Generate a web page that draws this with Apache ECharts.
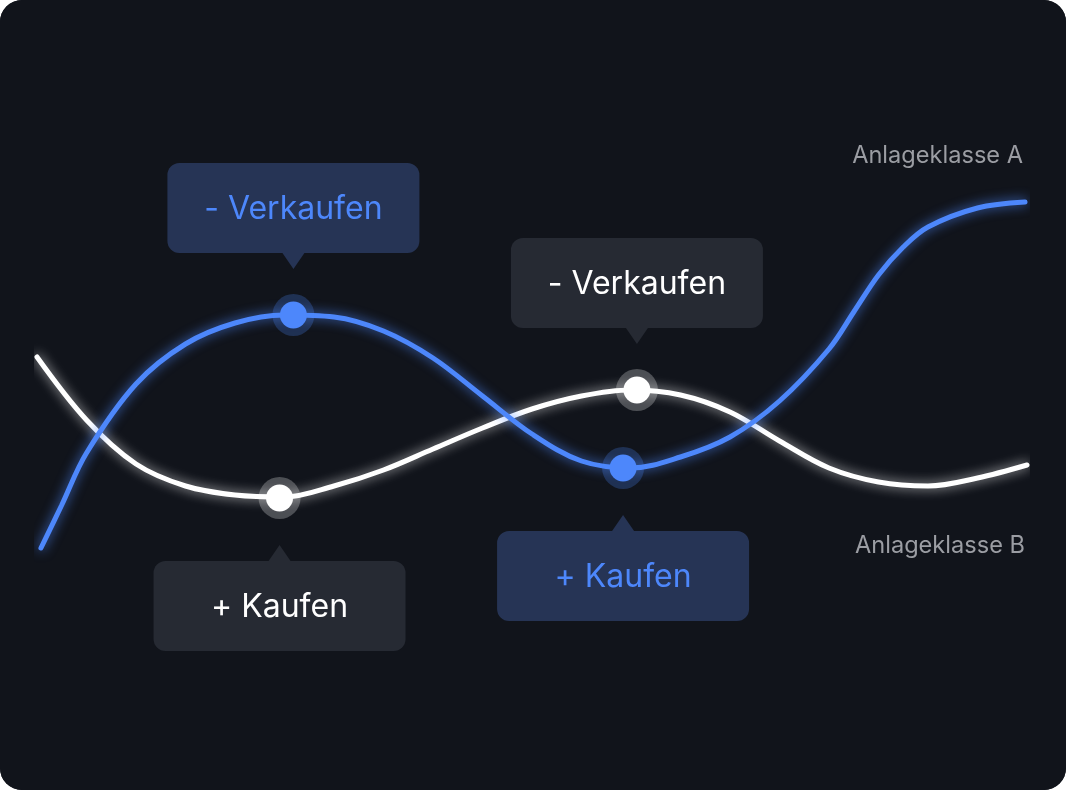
<!DOCTYPE html>
<html>
<head>
<meta charset="utf-8">
<script src="https://cdn.jsdelivr.net/npm/echarts@6/dist/echarts.min.js"></script>
<style>
  html, body { margin: 0; padding: 0; background: #ffffff; }
  #wrap { width: 1066px; height: 790px; border-radius: 22px; overflow: hidden; background: #11141b; }
  #chart { width: 1066px; height: 790px; }
</style>
</head>
<body>
<div id="wrap"><div id="chart"></div></div>
<script>
// Series names
const seriesNames = ['Anlageklasse A', 'Anlageklasse B'];
// Time steps
const timeA = [0.4, 2.5, 5, 10, 15, 20, 25, 30, 35, 40, 45, 50, 55, 60, 65, 70, 75, 80, 82.5, 85, 87.5, 90, 95, 99.8];
const timeB = [0, 5, 10, 15, 20, 25, 30, 35, 40, 45, 50, 55, 60, 65, 70, 75, 80, 85, 90, 95, 100];
// Anlageklasse A (blue) values
const valuesA = [10.4, 19, 29.4, 43.2, 51.2, 55.4, 57, 56.6, 53.8, 48.4, 40.8, 33.2, 27.8, 26.4, 28.6, 32.6, 39.8, 50.2, 57.6, 65, 70.6, 74.6, 78.4, 79.6];
// Anlageklasse B (white) values
const valuesB = [48.6, 36, 27.2, 22.8, 21, 20.6, 22.8, 26, 30.2, 34.4, 38.2, 40.8, 42, 41, 37.6, 31.8, 26.4, 23.6, 22.8, 24.4, 27];
// Highlighted points [time, value]
const markersA = [[25.9, 57], [59.2, 26.4]];
const markersB = [[24.5, 20.4], [60.6, 42]];
// Callout texts for highlighted points
const calloutsA = ['- Verkaufen', '+ Kaufen'];
const calloutsB = ['+ Kaufen', '- Verkaufen'];
// Callout direction: 'up' = box above the point
const calloutDirA = ['up', 'down'];
const calloutDirB = ['down', 'up'];

const BLUE = '#4d87fb';
const WHITE = '#ffffff';
const FONT = 'Inter, "Noto Sans", sans-serif';

const dataA = timeA.map((t, i) => [t, valuesA[i]]);
const dataB = timeB.map((t, i) => [t, valuesB[i]]);

const chart = echarts.init(document.getElementById('chart'), null, { renderer: 'canvas' });

const option = {
  backgroundColor: '#11141b',
  animation: false,
  grid: { left: 37, right: 39, top: 100, bottom: 190 },
  xAxis: { type: 'value', min: 0, max: 100, show: false },
  yAxis: { type: 'value', min: 0, max: 100, show: false },
  series: [
    {
      name: seriesNames[1], type: 'line', data: dataB, smooth: 0.35, showSymbol: false, z: 2,
      lineStyle: { color: WHITE, width: 5, cap: 'round', shadowBlur: 12, shadowColor: 'rgba(255,255,255,0.75)' }
    },
    {
      name: seriesNames[0], type: 'line', data: dataA, smooth: 0.35, showSymbol: false, z: 3,
      lineStyle: { color: BLUE, width: 5, cap: 'round', shadowBlur: 12, shadowColor: 'rgba(77,135,251,0.85)' }
    },
    { type: 'scatter', data: markersB, symbolSize: 42, z: 4, itemStyle: { color: 'rgba(255,255,255,0.25)', opacity: 1 } },
    { type: 'scatter', data: markersB, symbolSize: 27, z: 5, itemStyle: { color: WHITE, opacity: 1 } },
    { type: 'scatter', data: markersA, symbolSize: 42, z: 4, itemStyle: { color: 'rgba(77,135,251,0.25)', opacity: 1 } },
    { type: 'scatter', data: markersA, symbolSize: 27, z: 5, itemStyle: { color: BLUE, opacity: 1 } }
  ]
};
chart.setOption(option);

function callout(pt, text, dir, fill, textColor) {
  const [mx, my] = chart.convertToPixel({ gridIndex: 0 }, pt);
  const W = 252, H = 90, gap = 62, tip = 46, tw = 11;
  let boxY, tri;
  if (dir === 'up') {
    boxY = my - gap - H;
    tri = [[mx - tw, my - gap], [mx + tw, my - gap], [mx, my - tip]];
  } else {
    boxY = my + gap + 1;
    tri = [[mx - tw, my + gap + 1], [mx + tw, my + gap + 1], [mx, my + tip + 1]];
  }
  return [
    { type: 'rect', z: 10, shape: { x: mx - W / 2, y: boxY, width: W, height: H, r: 12 }, style: { fill: fill } },
    { type: 'polygon', z: 10, shape: { points: tri }, style: { fill: fill } },
    { type: 'text', z: 11, style: { text: text, x: mx, y: boxY + H / 2 + 1, fill: textColor,
        font: '32px ' + FONT, align: 'center', verticalAlign: 'middle' } }
  ];
}

let graphics = [];
markersA.forEach((p, i) => { graphics = graphics.concat(callout(p, calloutsA[i], calloutDirA[i], '#263455', BLUE)); });
markersB.forEach((p, i) => { graphics = graphics.concat(callout(p, calloutsB[i], calloutDirB[i], '#262a33', WHITE)); });

const endA = chart.convertToPixel({ gridIndex: 0 }, dataA[dataA.length - 1]);
const endB = chart.convertToPixel({ gridIndex: 0 }, dataB[dataB.length - 1]);
graphics.push({ type: 'text', z: 11, style: { text: seriesNames[0], x: endA[0] - 2, y: endA[1] - 46,
  fill: '#9b9da3', font: '23.6px ' + FONT, align: 'right', verticalAlign: 'middle' } });
graphics.push({ type: 'text', z: 11, style: { text: seriesNames[1], x: endB[0] - 2, y: endB[1] + 81,
  fill: '#9b9da3', font: '23.6px ' + FONT, align: 'right', verticalAlign: 'middle' } });

chart.setOption({ graphic: graphics });
</script>
</body>
</html>
